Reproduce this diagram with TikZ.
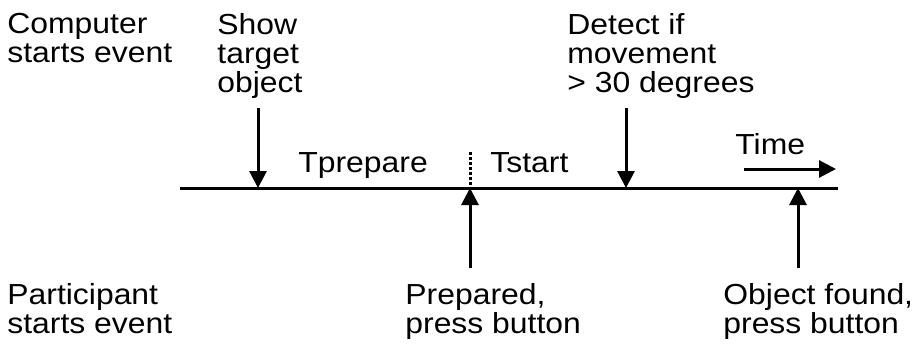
\documentclass[tikz,border=0pt]{standalone}
\usepackage{fontspec}
\setmainfont{Liberation Sans}[FakeStretch=1.1]
\usetikzlibrary{arrows.meta, positioning}

\begin{document}
\begin{tikzpicture}[x=0.5pt, y=-0.5pt,
    lbl/.style={anchor=north west, align=left, inner sep=0pt,
      font=\fontsize{14.5}{14.6}\selectfont},
    evt/.style={line width=1.5pt, -{Triangle[length=8.5pt, width=8.5pt]}}]
    \useasboundingbox (0,0) rectangle (918,344);

    % Time axis
    \coordinate (t0) at (180,188);
    \coordinate (t1) at (838,188);
    \draw[line width=1.5pt] (t0) -- (t1);

    % Event points on the axis
    \coordinate (show) at (258,188);
    \coordinate (prep) at (470,188);
    \coordinate (move) at (626,188);
    \coordinate (found) at (798,188);

    % Arrow tails
    \coordinate (showtop) at (258,108);
    \coordinate (movetop) at (626,108);
    \coordinate (prepbot) at (470,268);
    \coordinate (foundbot) at (798,268);
    \coordinate (prepdot) at (470,152);

    % Computer events
    \draw[evt] (showtop) -- (show);
    \draw[evt] (movetop) -- (move);
    % Participant events
    \draw[evt] (prepbot) -- (prep);
    \draw[evt] (foundbot) -- (found);
    \draw[line width=1.5pt, densely dotted] (prepdot) -- (prep);

    % Time direction
    \coordinate (time0) at (744,169);
    \coordinate (time1) at (836,169);
    \draw[evt] (time0) -- (time1);

    % Labels
    \node[lbl] (comp) at (7,13) {Computer\\starts event};
    \node[lbl] (showlbl) at (217,13) {Show\\target\\object};
    \node[lbl] (detect) at (567,13) {Detect if\\movement\\> 30 degrees};
    \node[lbl] (tprep) at (298,152) {Tprepare};
    \node[lbl] (tstart) at (490,152) {Tstart};
    \node[lbl] (timelbl) at (735,133) {Time};
    \node[lbl] (part) at (7,283) {Participant\\starts event};
    \node[lbl] (preplbl) at (405,283) {Prepared,\\press button};
    \node[lbl] (foundlbl) at (723,283) {Object found,\\press button};
\end{tikzpicture}
\end{document}
